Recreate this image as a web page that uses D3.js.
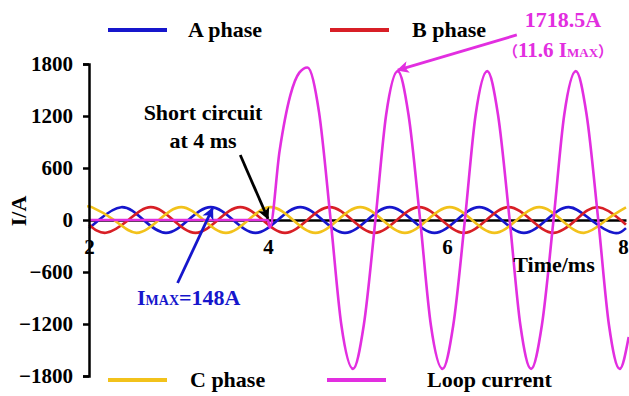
<!DOCTYPE html>
<html>
<head>
<meta charset="utf-8">
<script src="https://cdn.jsdelivr.net/npm/d3@7"></script>
<style>
  body { margin: 0; background: #fff; }
  svg text { font-family: "Liberation Serif", "Times New Roman", "Noto Sans CJK SC", serif; font-weight: bold; }
</style>
</head>
<body>
<div id="chart"></div>
<script>
// time axis (ms) and currents (A)
const timeA = [2.00, 2.11, 2.36, 2.61, 2.86, 3.11, 3.36, 3.61, 3.86, 4.11, 4.36, 4.61, 4.86, 5.11, 5.36, 5.61, 5.86, 6.11, 6.36, 6.61, 6.86, 7.11, 7.36, 7.61, 7.86, 8.00];
const phaseA = [-94, 0, 148, 0, -148, 0, 148, 0, -148, 0, 148, 0, -148, 0, 148, 0, -148, 0, 148, 0, -148, 0, 148, 0, -148, -94];

const timeB = [2.00, 2.19, 2.44, 2.69, 2.94, 3.19, 3.44, 3.69, 3.94, 4.19, 4.44, 4.69, 4.94, 5.19, 5.44, 5.69, 5.94, 6.19, 6.44, 6.69, 6.94, 7.19, 7.44, 7.69, 7.94, 8.00];
const phaseB = [-54, -148, 0, 148, 0, -148, 0, 148, 0, -148, 0, 148, 0, -148, 0, 148, 0, -148, 0, 148, 0, -148, 0, 148, 0, -54];

const timeC = [2.00, 2.03, 2.28, 2.53, 2.78, 3.03, 3.28, 3.53, 3.78, 4.03, 4.28, 4.53, 4.78, 5.03, 5.28, 5.53, 5.78, 6.03, 6.28, 6.53, 6.78, 7.03, 7.28, 7.53, 7.78, 8.00];
const phaseC = [145, 148, 0, -148, 0, 148, 0, -148, 0, 148, 0, -148, 0, 148, 0, -148, 0, 148, 0, -148, 0, 148, 0, -148, 0, 145];

const timeLoop = [2.00, 4.00, 4.02, 4.13, 4.25, 4.35, 4.44, 4.57, 4.70, 4.82, 4.95, 5.07, 5.20, 5.32, 5.45, 5.57, 5.70, 5.82, 5.95, 6.07, 6.20, 6.32, 6.45, 6.57, 6.70, 6.82, 6.94, 7.06, 7.19, 7.31, 7.44, 7.56, 7.69, 7.81, 7.93, 8.03];
const loopCurrent = [0, 0, -90, 800, 1440, 1700, 1760, 1245, 0, -1215, -1718, -1215, 0, 1215, 1718, 1215, 0, -1215, -1718, -1215, 0, 1215, 1718, 1215, 0, -1215, -1718, -1215, 0, 1215, 1718, 1215, 0, -1215, -1718, -1350];

const xTicks = [2, 4, 6, 8];
const yTicks = [-1800, -1200, -600, 0, 600, 1200, 1800];
const seriesNames = ['A phase', 'B phase', 'C phase', 'Loop current'];
const seriesColors = ['#1616cc', '#d81f26', '#f2c21b', '#e22ee0'];

const width = 629;
const height = 396;

const x = d3.scaleLinear().domain([2, 8]).range([89, 626]);
const y = d3.scaleLinear().domain([-1800, 1800]).range([376, 64]);

const svg = d3.select('#chart')
  .append('svg')
  .attr('width', width)
  .attr('height', height);

// arrow heads
const defs = svg.append('defs');
[['black', '#000'], ['blue', '#1616cc'], ['magenta', '#e22ee0']].forEach(([id, c]) => {
  defs.append('marker')
    .attr('id', 'arrow-' + id)
    .attr('viewBox', '0 0 10 10')
    .attr('refX', 9)
    .attr('refY', 5)
    .attr('markerUnits', 'userSpaceOnUse')
    .attr('markerWidth', 16)
    .attr('markerHeight', 12)
    .attr('orient', 'auto')
    .append('path')
    .attr('d', 'M0,0 L10,5 L0,10 L2.5,5 z')
    .style('fill', c);
});

// zero line / x axis
const xAxis = svg.append('g')
  .attr('transform', `translate(0,${y(0)})`)
  .call(d3.axisBottom(x).tickValues(xTicks).tickSize(0).tickPadding(19).tickFormat(d3.format('d')));
xAxis.select('.domain').attr('stroke', '#000').attr('stroke-width', 2.5);
xAxis.selectAll('text').style('font-size', '21px').style('fill', '#000')
  .attr('dx', d => d === 8 ? -3 : 0);

const line = (curve) => d3.line()
  .x(d => x(d[0]))
  .y(d => y(d[1]))
  .curve(curve);

const series = [
  { t: timeA, v: phaseA, curve: d3.curveNatural },
  { t: timeB, v: phaseB, curve: d3.curveNatural },
  { t: timeC, v: phaseC, curve: d3.curveNatural },
  { t: timeLoop, v: loopCurrent, curve: d3.curveMonotoneX }
];

series.forEach((s, i) => {
  svg.append('path')
    .datum(d3.zip(s.t, s.v))
    .attr('d', line(s.curve))
    .style('fill', 'none')
    .style('stroke', seriesColors[i])
    .style('stroke-width', 2.6);
});

// y axis
const yAxis = svg.append('g')
  .attr('transform', `translate(${x(2)},0)`)
  .call(d3.axisLeft(y).tickValues(yTicks).tickSize(6).tickSizeOuter(6).tickPadding(10).tickFormat(d3.format('d')));
yAxis.select('.domain').attr('stroke', '#000').attr('stroke-width', 2.5);
yAxis.selectAll('.tick line').attr('stroke', '#000').attr('stroke-width', 2.5);
yAxis.selectAll('text').style('font-size', '21px').style('fill', '#000');

svg.append('text')
  .attr('transform', 'translate(26,211) rotate(-90)')
  .attr('text-anchor', 'middle')
  .style('font-size', '22px')
  .text('I/A');

svg.append('text')
  .attr('x', 554)
  .attr('y', 272)
  .attr('text-anchor', 'middle')
  .style('font-size', '22px')
  .text('Time/ms');

// legends
const legendPos = [[108, 30], [330, 30], [108, 380], [327, 380]];
const legendTextX = [188, 412, 190, 427];
seriesNames.forEach((name, i) => {
  const [lx, ly] = legendPos[i];
  svg.append('line')
    .attr('x1', lx).attr('x2', lx + 59)
    .attr('y1', ly).attr('y2', ly)
    .style('stroke', seriesColors[i])
    .style('stroke-width', 4);
  svg.append('text')
    .attr('x', legendTextX[i])
    .attr('y', ly + 7)
    .style('font-size', '22px')
    .text(name);
});

// annotations
const arrow = (x1, y1, x2, y2, color, id) => svg.append('line')
  .attr('x1', x1).attr('y1', y1).attr('x2', x2).attr('y2', y2)
  .style('stroke', color)
  .style('stroke-width', 2.8)
  .attr('marker-end', `url(#arrow-${id})`);

svg.append('text')
  .attr('x', 203).attr('y', 120)
  .attr('text-anchor', 'middle')
  .style('font-size', '22px')
  .text('Short circuit');
svg.append('text')
  .attr('x', 203).attr('y', 148)
  .attr('text-anchor', 'middle')
  .style('font-size', '22px')
  .text('at 4 ms');
arrow(x(3.69), y(750), x(4), y(15), '#000', 'black');

const imax = svg.append('text')
  .attr('x', 137).attr('y', 305)
  .style('font-size', '22px')
  .style('fill', '#1616cc');
imax.append('tspan').text('I');
imax.append('tspan').style('font-size', '14px').text('MAX');
imax.append('tspan').text('=148A');
arrow(x(2.99), y(-727), x(3.38), y(135), '#1616cc', 'blue');

svg.append('text')
  .attr('x', 563).attr('y', 27)
  .attr('text-anchor', 'middle')
  .style('font-size', '22px')
  .style('fill', '#e22ee0')
  .text('1718.5A');
const note = svg.append('text')
  .attr('x', 503).attr('y', 57)
  .style('font-size', '21px')
  .style('fill', '#e22ee0');
note.append('tspan').style('font-family', '"Noto Sans CJK SC"').style('font-size', '15px').text('（');
note.append('tspan').text('11.6 I');
note.append('tspan').style('font-size', '13px').text('MAX');
note.append('tspan').style('font-family', '"Noto Sans CJK SC"').style('font-size', '15px').text('）');
arrow(x(6.78), y(2135), x(5.45), y(1730), '#e22ee0', 'magenta');
</script>
</body>
</html>
